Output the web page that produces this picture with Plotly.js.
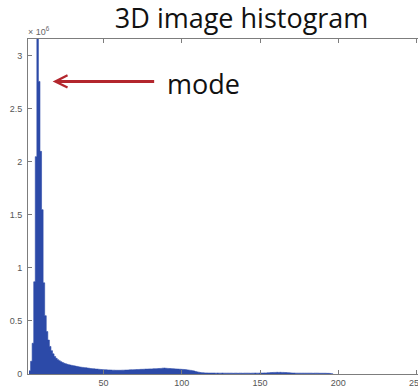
<!DOCTYPE html>
<html>
<head>
<meta charset="utf-8">
<script src="https://cdn.plot.ly/plotly-3.0.1.min.js"></script>
<style>
  html, body { margin: 0; padding: 0; background: #fff; overflow: hidden; }
  #chart { width: 418px; height: 389px; }
</style>
</head>
<body>
<div id="chart"></div>
<script>
// Intensity histogram of a 3D image: voxel counts per grey level, in millions.
const firstLevel = 3;
const counts = [
  // 3 - 20
  0.03, 0.12, 0.29, 0.87, 2.05, 3.20, 2.76, 2.10, 1.55, 0.86,
  0.55, 0.40, 0.32, 0.26, 0.22, 0.19, 0.165, 0.148,
  // 21 - 50
  0.135, 0.125, 0.116, 0.108, 0.101, 0.096, 0.091, 0.087, 0.084, 0.081,
  0.078, 0.075, 0.072, 0.069, 0.066, 0.064, 0.062, 0.060, 0.058, 0.056,
  0.054, 0.052, 0.050, 0.049, 0.047, 0.046, 0.045, 0.043, 0.042, 0.041,
  // 51 - 110
  0.040, 0.039, 0.038, 0.038, 0.037, 0.036, 0.036, 0.035, 0.035, 0.035,
  0.035, 0.036, 0.036, 0.037, 0.037, 0.038, 0.039, 0.040, 0.040, 0.041,
  0.042, 0.042, 0.043, 0.044, 0.044, 0.045, 0.046, 0.046, 0.047, 0.048,
  0.048, 0.049, 0.050, 0.050, 0.051, 0.052, 0.053, 0.055, 0.056, 0.054,
  0.053, 0.052, 0.051, 0.050, 0.049, 0.048, 0.047, 0.046, 0.045, 0.044,
  0.043, 0.042, 0.040, 0.038, 0.036, 0.034, 0.031, 0.028, 0.024, 0.020,
  // 111 - 170
  0.017, 0.014, 0.012, 0.011, 0.010, 0.010, 0.009, 0.009, 0.009, 0.009,
  0.009, 0.008, 0.009, 0.008, 0.008, 0.009, 0.008, 0.008, 0.008, 0.008,
  0.008, 0.008, 0.007, 0.008, 0.008, 0.007, 0.008, 0.008, 0.007, 0.008,
  0.008, 0.008, 0.008, 0.007, 0.008, 0.008, 0.009, 0.008, 0.008, 0.009,
  0.009, 0.009, 0.010, 0.010, 0.011, 0.012, 0.013, 0.014, 0.015, 0.015,
  0.016, 0.015, 0.016, 0.015, 0.015, 0.014, 0.013, 0.012, 0.011, 0.010,
  // 171 - 196
  0.009, 0.009, 0.008, 0.008, 0.008, 0.008, 0.008, 0.008, 0.008, 0.008,
  0.008, 0.008, 0.008, 0.007, 0.008, 0.008, 0.008, 0.007, 0.007, 0.007,
  0.007, 0.007, 0.006, 0.006, 0.005, 0.003
];
const levels = counts.map((_, i) => firstLevel + i);

const xTicks = [50, 100, 150, 200, 250];
const yTicks = [0, 0.5, 1, 1.5, 2, 2.5, 3];

const titleText = '3D image histogram';
const modeText = 'mode';
const modeLevel = 9;           // bin the arrow points at
const modeCount = counts[levels.indexOf(modeLevel)];

const barBlue = '#2c4aa8';
const axisGrey = '#7d7d7d';
const arrowRed = '#b3262d';

// Each bin is one unit wide; draw the bins as a single filled step outline
// (left edge of every bin, then the closing right edge) so neighbours join seamlessly.
const edges = levels.map(v => v - 0.5).concat([levels[levels.length - 1] + 0.5]);
const heights = counts.concat([0]);

const trace = {
  type: 'scatter',
  mode: 'lines',
  x: edges,
  y: heights,
  line: { shape: 'hv', color: barBlue, width: 0.6, simplify: false },
  fill: 'tozeroy',
  fillcolor: barBlue,
  hoverinfo: 'skip'
};

const tickFont = { family: 'Liberation Sans, Arial, sans-serif', size: 9, color: '#555' };

const layout = {
  width: 418,
  height: 389,
  margin: { l: 28, r: 0, t: 39, b: 15, pad: 0 },
  paper_bgcolor: '#ffffff',
  plot_bgcolor: '#ffffff',
  showlegend: false,
  title: {
    text: titleText,
    font: { family: 'Open Sans, sans-serif', size: 27, color: '#111' },
    xref: 'container', x: 0.578, xanchor: 'center',
    yref: 'container', y: 0.953, yanchor: 'middle'
  },
  xaxis: {
    range: [1.85, 250.9],
    tickvals: xTicks,
    ticks: 'inside', ticklen: 4, tickcolor: axisGrey, tickwidth: 1,
    showline: true, linecolor: axisGrey, linewidth: 1, mirror: 'ticks',
    showgrid: false, zeroline: false,
    tickfont: tickFont,
    ticklabelstandoff: 0,
    ticklabeloverflow: 'allow'
  },
  yaxis: {
    range: [0, 3.16],
    tickvals: yTicks,
    ticks: 'inside', ticklen: 4, tickcolor: axisGrey, tickwidth: 1,
    showline: true, linecolor: axisGrey, linewidth: 1, mirror: false,
    showgrid: false, zeroline: false,
    tickfont: tickFont,
    ticklabelstandoff: 3
  },
  annotations: [
    {
      // axis scale factor
      text: '× 10<sup>6</sup>',
      xref: 'paper', yref: 'paper', x: 0, y: 1,
      xanchor: 'left', yanchor: 'bottom', yshift: 0, xshift: -2,
      showarrow: false,
      font: { family: 'Liberation Sans, Arial, sans-serif', size: 9, color: '#666' }
    },
    {
      // arrow towards the mode
      text: '',
      xref: 'x', yref: 'y', x: 17.6, y: modeCount,
      showarrow: true, ax: 103, ay: 0,
      arrowcolor: arrowRed, arrowwidth: 3, arrowhead: 5, arrowsize: 0.8
    },
    {
      text: modeText,
      xref: 'x', yref: 'y', x: 89.3, y: modeCount,
      xanchor: 'left', yanchor: 'middle', yshift: -2,
      showarrow: false,
      font: { family: 'Open Sans, sans-serif', size: 27, color: '#111' }
    }
  ]
};

Plotly.newPlot('chart', [trace], layout, { displayModeBar: false, staticPlot: true });
</script>
</body>
</html>
